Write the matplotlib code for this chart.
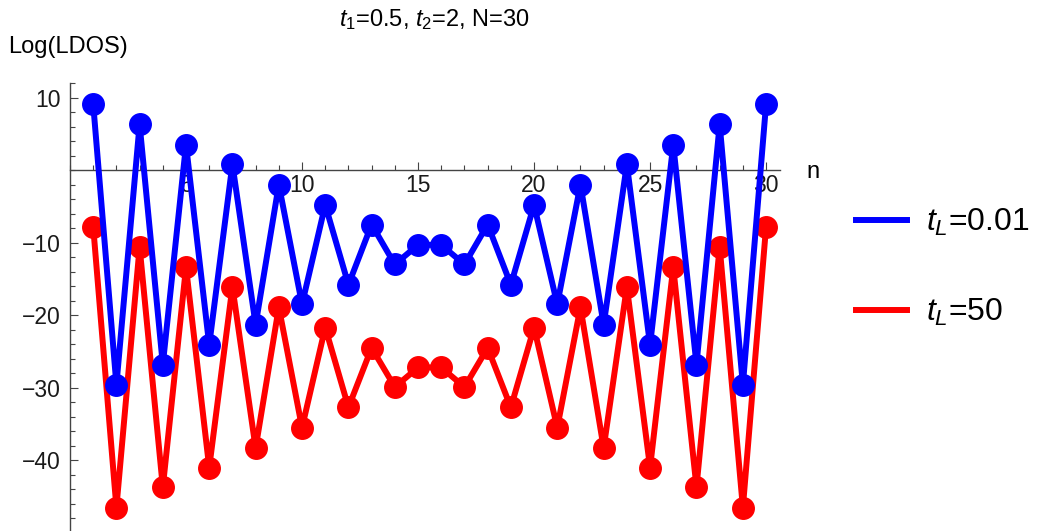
import matplotlib
matplotlib.use("Agg")
import matplotlib.pyplot as plt
from matplotlib.ticker import MultipleLocator
import numpy as np

plt.rcParams['font.family'] = ['Liberation Sans', 'DejaVu Sans']
plt.rcParams['mathtext.fontset'] = 'custom'
plt.rcParams['mathtext.rm'] = 'Liberation Sans'
plt.rcParams['mathtext.it'] = 'Liberation Sans:italic'
plt.rcParams['mathtext.bf'] = 'Liberation Sans:bold'

n = list(range(1, 31))
half_blue = [9.1, -29.6, 6.3, -26.8, 3.5, -24.1, 0.8, -21.3, -2.0, -18.5,
             -4.8, -15.8, -7.5, -13.0, -10.3]
half_red = [-7.8, -46.5, -10.6, -43.7, -13.4, -41.0, -16.1, -38.3, -18.9, -35.5,
            -21.7, -32.7, -24.5, -29.9, -27.2]
ldos_small = half_blue + half_blue[::-1]
ldos_large = half_red + half_red[::-1]
labels = ["$t_L$=0.01", "$t_L$=50"]
title = "$t_1$=0.5, $t_2$=2, N=30"

fig = plt.figure(figsize=(10.39, 5.31), dpi=100)
ax = fig.add_axes([70/1039, 1/531, 710/1039, 447/531])

lw = 4.3
ms = 15.5
ax.plot(n, ldos_small, '-o', color='#0000ff', lw=lw, ms=ms, label=labels[0], zorder=3)
ax.plot(n, ldos_large, '-o', color='#ff0000', lw=lw, ms=ms, label=labels[1], zorder=2)

ax.set_xlim(0.0, 30.6)
ax.set_ylim(-49.6, 12.0)

axcol = '#444444'
for s in ['top', 'right']:
    ax.spines[s].set_visible(False)
ax.spines['bottom'].set_position(('data', 0))
ax.spines['left'].set_position(('data', 0.0))
ax.spines['bottom'].set_color(axcol)
ax.spines['left'].set_color(axcol)
ax.spines['bottom'].set_linewidth(1.0)
ax.spines['left'].set_linewidth(1.0)

ax.xaxis.set_major_locator(MultipleLocator(5))
ax.xaxis.set_minor_locator(MultipleLocator(1))
ax.yaxis.set_major_locator(MultipleLocator(10))
ax.yaxis.set_minor_locator(MultipleLocator(2))
ax.set_xticks([5, 10, 15, 20, 25, 30])
ax.tick_params(which='major', direction='in', length=5.5, width=0.8, color=axcol,
               labelsize=16.5, labelcolor='#1a1a1a')
ax.tick_params(which='minor', direction='in', length=3.6, width=0.8, color=axcol)
ax.tick_params(axis='x', pad=3)
ax.tick_params(axis='y', pad=7)
ax.set_yticks([-40, -30, -20, -10, 10])
ax.set_yticklabels(['\u221240', '\u221230', '\u221220', '\u221210', '10'])

fig.text(434/1039, 1 - 20/531, title, ha='center', va='center', fontsize=17)
fig.text(8/1039, 1 - 47/531, "Log(LDOS)", ha='left', va='center', fontsize=17)
fig.text(806/1039, 1 - 172/531, "n", ha='left', va='center', fontsize=17)

leg = fig.legend(loc='upper left', bbox_to_anchor=(856/1039, 1 - 207/531),
                 frameon=False, fontsize=23, handlelength=1.6, handletextpad=0.6,
                 labelspacing=1.85, borderaxespad=0, borderpad=0)
for h in leg.legend_handles:
    h.set_marker('')
    h.set_linewidth(4.3)

fig.savefig("out.png", dpi=100)
